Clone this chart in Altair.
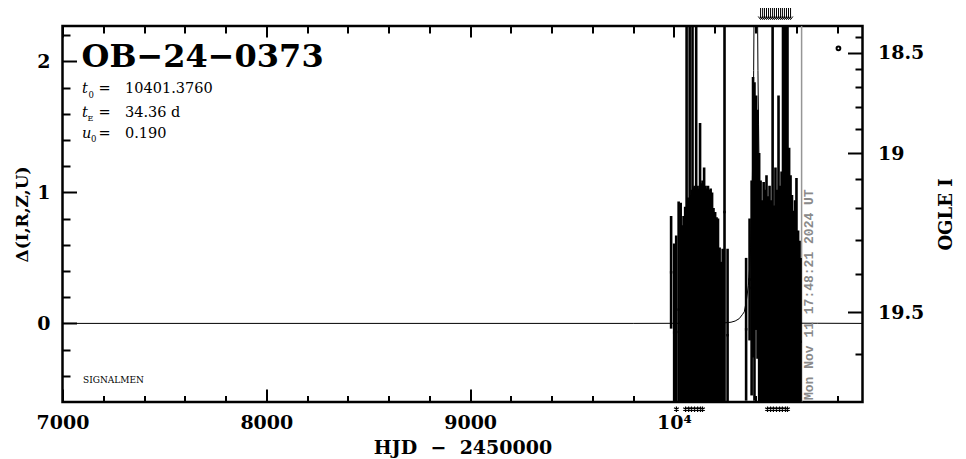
import altair as alt
import pandas as pd

# ---------------- data ----------------
# photometric points: HJD-2450000, lower / upper end of the error bar in Delta flux
obs_hjd = [9986, 10001, 10011, 10023, 10033, 10040, 10047, 10055, 10062, 10067,
           10072, 10077, 10082, 10087, 10091, 10096, 10101, 10109, 10116, 10121,
           10128, 10136, 10140, 10148, 10155, 10160, 10167, 10175, 10180, 10187,
           10194, 10202, 10209, 10216, 10224, 10231, 10239, 10248, 10263,
           10354, 10371, 10381, 10388, 10395, 10403, 10410, 10418, 10425, 10432,
           10440, 10447, 10454, 10462, 10469, 10476, 10484, 10491, 10498, 10506,
           10513, 10520, 10528, 10535, 10543, 10550, 10557, 10565, 10572, 10579,
           10587, 10594, 10601, 10609, 10616, 10621]
obs_hi = [0.82, 0.61, 0.67, 0.93, 0.92, 0.75, 0.82, 0.89, 2.60, 0.96,
          0.94, 2.50, 0.98, 1.02, 2.70, 1.04, 1.05, 2.55, 1.05, 1.03,
          1.53, 1.07, 1.09, 1.19, 1.05, 1.03, 1.05, 1.02, 1.03, 1.00,
          0.88, 0.85, 0.81, 0.80, 0.58, 0.47, 0.57, 2.60, 0.57,
          0.50, 0.80, 1.09, 1.88, 1.84, 1.74, 1.63, 1.30, 1.09, 0.94,
          1.08, 1.02, 1.13, 0.97, 1.05, 0.94, 2.60, 0.90, 1.19, 1.02,
          1.74, 1.05, 1.16, 2.70, 2.60, 2.80, 2.50, 1.34, 1.13, 0.98,
          0.86, 0.94, 1.11, 0.71, 0.63, 0.50]
obs_lo = [-0.04, -0.75, -0.80, -0.72, -0.90, -0.70, -0.85, -0.78, -0.90, -0.80,
          -0.75, -0.70, -0.82, -0.76, -0.80, -0.70, -0.85, -0.75, -0.80, -0.72,
          -0.70, -0.90, -0.78, -0.72, -0.80, -0.86, -0.70, -0.75, -0.80, -0.77,
          -0.70, -0.82, -0.76, -0.72, -0.80, -0.74, -0.70, -0.90, -0.75,
          -0.59, -0.13, -0.55, -0.26, -0.59, -0.05, -0.27, -0.72, -0.75, -0.80,
          -0.72, -0.78, -0.85, -0.70, -0.76, -0.80, -0.90, -0.72, -0.80, -0.75,
          -0.82, -0.70, -0.80, -0.75, -0.80, -0.70, -0.85, -0.78, -0.72, -0.80,
          -0.76, -0.70, -0.80, -0.75, -0.72, -0.78]

# points above the plotted range (arrows) and below it (asterisks)
up_hjd = [10425, 10435, 10444, 10454, 10464, 10474, 10484, 10493,
          10503, 10513, 10523, 10532, 10542, 10552, 10562, 10572]
down_hjd = [10012, 10057, 10072, 10086, 10101, 10116, 10130, 10140,
            10459, 10474, 10488, 10503, 10518, 10532, 10547, 10557]

# single OGLE-style marker at top right
circ_hjd = [10807]
circ_delta = [2.10]

# model light curve (t0 = 10401.3760, tE = 34.36 d, u0 = 0.190)
model_hjd = [7000, 9800, 10100, 10200, 10250, 10280, 10300, 10320, 10335, 10345,
             10355, 10365, 10371, 10376, 10381, 10385, 10388, 10391, 10394, 10401,
             10409, 10412, 10415, 10418, 10422, 10427, 10432, 10438, 10448, 10458,
             10468, 10483, 10503, 10523, 10553, 10603, 10703, 10925]
model_delta = [0.0, 0.0, 0.001, 0.0015, 0.0045, 0.009, 0.018, 0.036, 0.066, 0.088,
               0.17, 0.29, 0.42, 0.58, 0.83, 1.13, 1.52, 1.93, 2.59, 4.33,
               2.59, 1.93, 1.52, 1.13, 0.83, 0.58, 0.42, 0.29, 0.17, 0.088,
               0.066, 0.036, 0.018, 0.009, 0.0045, 0.0015, 0.001, 0.0]

now_hjd = [10626.2]

# axis tick values
x_major = [7000, 8000, 9000, 10000]
x_minor = [7200, 7400, 7600, 7800, 8200, 8400, 8600, 8800, 9200, 9400, 9600, 9800,
           10200, 10400, 10600, 10800]
y_major = [0, 1, 2]
y_minor = [-0.4, -0.2, 0.2, 0.4, 0.6, 0.8, 1.2, 1.4, 1.6, 1.8, 2.2]
mag_major = [18.5, 19.0, 19.5]
mag_minor = [18.4, 18.6, 18.7, 18.8, 18.9, 19.1, 19.2, 19.3, 19.4, 19.6]
# OGLE I magnitude -> Delta position on the plot
MAG_C, MAG_K = 3.38, 2.08


def mag_to_delta(m):
    return MAG_C - MAG_K * 10 ** (0.4 * (m - 19.0))


# ---------------- chart ----------------
SERIF = "DejaVu Serif"
W, H = 800, 376
xs = alt.Scale(domain=[7000, 10925], nice=False, zero=False)
ys = alt.Scale(domain=[-0.6, 2.27], nice=False, zero=False)

obs = pd.DataFrame({"hjd": obs_hjd, "lo": obs_lo, "hi": obs_hi})
model = pd.DataFrame({"hjd": model_hjd, "delta": model_delta})
ups = pd.DataFrame({"hjd": up_hjd, "a": [2.33] * len(up_hjd), "b": [2.47] * len(up_hjd)})
downs = pd.DataFrame({"hjd": down_hjd, "d": [-0.655] * len(down_hjd)})
circ = pd.DataFrame({"hjd": circ_hjd, "delta": circ_delta})
now = pd.DataFrame({"hjd": now_hjd})

common = dict(domain=False, grid=False, tickColor="black", tickWidth=2)

ax_bottom_major = alt.Axis(orient="bottom", values=x_major, tickSize=13, offset=-13,
                           format="d", labelExpr="datum.value == 10000 ? '10⁴' : datum.label",
                           labelFont=SERIF, labelFontWeight="bold", labelFontSize=19,
                           labelColor="black", labelPadding=11, labelFlush=False,
                           labelOverlap=False,
                           title="HJD\u00a0\u00a0−\u00a0\u00a02450000", titleFont=SERIF,
                           titleFontWeight="bold", titleFontSize=19, titleColor="black",
                           titleBaseline="alphabetic", titleY=64, **common)
ax_bottom_minor = alt.Axis(orient="bottom", values=x_minor, tickSize=6.5, offset=-6.5,
                           labels=False, title=None, **common)
ax_top_major = alt.Axis(orient="top", values=x_major, tickSize=11, offset=-11,
                        labels=False, title=None, **common)
ax_top_minor = alt.Axis(orient="top", values=x_minor, tickSize=7, offset=-7,
                        labels=False, title=None, **common)
ax_left_major = alt.Axis(orient="left", values=y_major, tickSize=14, offset=-14,
                         labelFont=SERIF, labelFontWeight="bold", labelFontSize=19,
                         labelColor="black", labelPadding=12.5, labelAlign="right",
                         labelOverlap=False,
                         title="Δ(I,R,Z,U)", titleFont=SERIF, titleFontWeight="bold",
                         titleFontSize=17, titleColor="black", titleBaseline="middle",
                         titleX=-54, **common)
ax_left_minor = alt.Axis(orient="left", values=y_minor, tickSize=7.5, offset=-7.5,
                         labels=False, title=None, **common)
ax_right_major = alt.Axis(orient="right", values=[mag_to_delta(m) for m in mag_major],
                          tickSize=15, offset=-15,
                          labelExpr="'' + round((19 + 2.5*log((%g - datum.value)/%g)/LN10)*10)/10" % (MAG_C, MAG_K),
                          labelFont=SERIF, labelFontWeight="bold", labelFontSize=19,
                          labelColor="black", labelPadding=15, labelAlign="left",
                          labelOverlap=False,
                          title="OGLE I", titleFont=SERIF, titleFontWeight="bold",
                          titleFontSize=18, titleColor="black", titleAngle=270,
                          titleBaseline="middle", titleX=99, **common)
ax_right_minor = alt.Axis(orient="right", values=[mag_to_delta(m) for m in mag_minor],
                          tickSize=7.5, offset=-7.5, labels=False, title=None, **common)

bars = alt.Chart(obs).mark_rule(clip=True, color="black", strokeWidth=2.6).encode(
    x=alt.X("hjd:Q", scale=xs, axis=ax_bottom_major),
    y=alt.Y("lo:Q", scale=ys, axis=ax_left_major),
    y2="hi:Q",
)
dots = alt.Chart(obs).transform_calculate(mid="(datum.lo + datum.hi) / 2").mark_square(
    clip=True, color="black", size=6, opacity=1).encode(
    x=alt.X("hjd:Q", scale=xs, axis=ax_bottom_minor),
    y=alt.Y("mid:Q", scale=ys, axis=ax_left_minor),
)
curve = alt.Chart(model).mark_line(clip=True, color="black", strokeWidth=1).encode(
    x=alt.X("hjd:Q", scale=xs, axis=ax_top_major),
    y=alt.Y("delta:Q", scale=ys, axis=ax_right_major),
)
circle = alt.Chart(circ).mark_point(shape="circle", filled=False, color="black",
                                    size=14, strokeWidth=2, opacity=1).encode(
    x=alt.X("hjd:Q", scale=xs, axis=ax_top_minor),
    y=alt.Y("delta:Q", scale=ys, axis=ax_right_minor),
)
nowline = alt.Chart(now).mark_rule(color="#969696", strokeWidth=1.5).encode(
    x=alt.X("hjd:Q", scale=xs, axis=None),
)
arrows = alt.Chart(ups).mark_rule(color="black", strokeWidth=1).encode(
    x=alt.X("hjd:Q", scale=xs, axis=None),
    y=alt.Y("a:Q", scale=ys, axis=None), y2="b:Q",
)
heads = alt.Chart(ups).mark_point(shape="M-1,-0.7L0,0.6L1,-0.7", filled=False,
                                  color="black", size=22, strokeWidth=1, opacity=1).encode(
    x=alt.X("hjd:Q", scale=xs, axis=None),
    y=alt.Y("a:Q", scale=ys, axis=None),
)
stars = alt.Chart(downs).mark_point(
    shape="M0,-1L0,1M-0.87,-0.5L0.87,0.5M-0.87,0.5L0.87,-0.5",
    filled=False, color="black", size=30, strokeWidth=1.2, opacity=1).encode(
    x=alt.X("hjd:Q", scale=xs, axis=None),
    y=alt.Y("d:Q", scale=ys, axis=None),
)

one = pd.DataFrame({"k": [0]})
X0, Y0 = 62.5, 26.0  # page position of the plot's top-left corner


def label(text, px, py, size, weight="normal", style="normal", font=SERIF,
          color="black", angle=0, baseline="alphabetic", align="left"):
    return alt.Chart(one).mark_text(
        text=text, font=font, fontSize=size, fontWeight=weight, fontStyle=style,
        color=color, angle=angle, baseline=baseline, align=align,
    ).encode(x=alt.value(px - X0), y=alt.value(py - Y0))


texts = [
    label("OB−24−0373", 81.5, 67, 32, weight="bold"),
    label("t", 82, 93, 14.5, style="italic"),
    label("0", 88.5, 97.5, 8.5),
    label("=", 98.5, 93, 14.5),
    label("10401.3760", 125, 93, 14.5),
    label("t", 82, 117, 14.5, style="italic"),
    label("E", 87.5, 121, 8),
    label("=", 98.5, 117, 14.5),
    label("34.36  d", 125, 117, 14.5),
    label("u", 82, 138, 14.5, style="italic"),
    label("0", 91, 142, 8.5),
    label("=", 98.5, 138, 14.5),
    label("0.190", 125, 138, 14.5),
    label("SIGNALMEN", 83, 383, 9),
    label("Mon Nov 11 17:48:21 2024 UT", 808.5, 400, 13, weight="bold",
          font="Liberation Mono", color="#8a8a8a", angle=270, baseline="middle"),
]

chart = alt.layer(
    nowline, curve, bars, dots, circle, arrows, heads, stars, *texts
).resolve_scale(x="shared", y="shared").resolve_axis(
    x="independent", y="independent"
).properties(
    width=W, height=H,
    padding={"left": 54.5, "top": 18, "right": 95.5, "bottom": 57},
    autosize=alt.AutoSizeParams(type="none"),
).configure_view(stroke="black", strokeWidth=2.5)

chart.save("out.html", embed_options={"renderer": "svg", "actions": False})
